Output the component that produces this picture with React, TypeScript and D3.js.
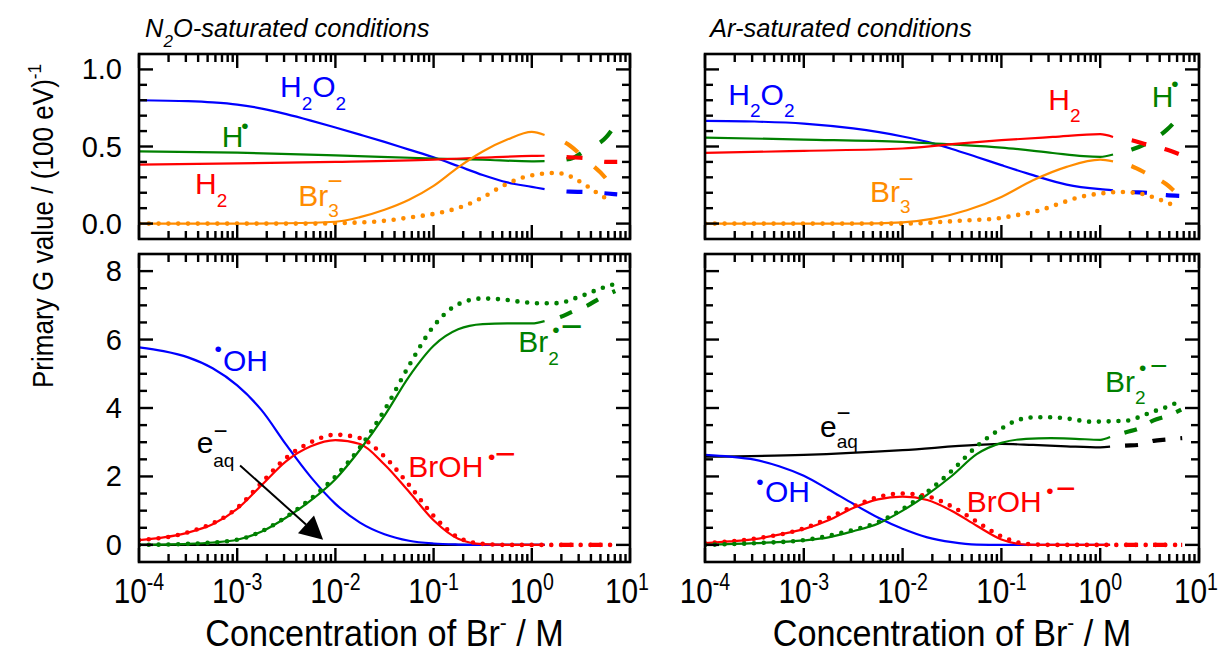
import React from "react";
import * as d3 from "d3";

type Pt = [number, number]; // [log10(concentration / M), G value]

// ---------- N2O-saturated, molecular products (top left) ----------
const n2oH2O2: Pt[] = [[-4,0.80],[-3.5,0.794],[-3.25,0.786],[-3,0.772],[-2.75,0.746],[-2.5,0.71],[-2.25,0.668],[-2,0.623],[-1.75,0.577],[-1.5,0.53],[-1.25,0.48],[-1,0.43],[-0.75,0.373],[-0.5,0.315],[-0.25,0.267],[0,0.238],[0.13,0.223]];
const n2oH2O2Hi: Pt[] = [[0.13,0.223],[0.39,0.207],[0.54,0.205],[0.77,0.195],[0.87,0.19]];
const n2oH: Pt[] = [[-4,0.469],[-3,0.46],[-2,0.443],[-1,0.422],[-0.5,0.414],[0,0.404],[0.13,0.405]];
const n2oHHi: Pt[] = [[0.13,0.405],[0.39,0.42],[0.55,0.476],[0.76,0.562],[0.87,0.66]];
const n2oH2: Pt[] = [[-4,0.383],[-3,0.39],[-2,0.40],[-1,0.415],[-0.5,0.428],[0,0.439],[0.13,0.44]];
const n2oH2Hi: Pt[] = [[0.13,0.44],[0.39,0.43],[0.54,0.425],[0.77,0.40],[0.87,0.40]];
const n2oBr3: Pt[] = [[-4,0],[-3,0],[-2.5,0.002],[-2,0.012],[-1.75,0.042],[-1.5,0.09],[-1.25,0.155],[-1,0.245],[-0.75,0.365],[-0.5,0.468],[-0.25,0.545],[0,0.595],[0.13,0.575]];
const n2oBr3Hi: Pt[] = [[0.13,0.575],[0.39,0.505],[0.54,0.42],[0.77,0.28],[0.87,0.18]];
const n2oBr3Sim: Pt[] = [[-4,0],[-2.2,0],[-1.9,0.004],[-1.55,0.015],[-1.24,0.04],[-0.92,0.073],[-0.7,0.112],[-0.5,0.17],[-0.3,0.243],[-0.1,0.297],[0.1,0.323],[0.23,0.328],[0.33,0.322],[0.44,0.29],[0.55,0.249],[0.65,0.205],[0.76,0.162]];

// ---------- Ar-saturated, molecular products (top right) ----------
const arH2O2: Pt[] = [[-4,0.666],[-3.5,0.662],[-3,0.649],[-2.5,0.617],[-2,0.565],[-1.75,0.53],[-1.5,0.484],[-1.25,0.432],[-1,0.379],[-0.68,0.314],[-0.34,0.253],[0,0.223],[0.13,0.216]];
const arH2O2Hi: Pt[] = [[0.13,0.216],[0.32,0.205],[0.47,0.2],[0.67,0.185],[0.8,0.18]];
const arH: Pt[] = [[-4,0.558],[-3,0.545],[-2,0.53],[-1.5,0.513],[-1,0.493],[-0.48,0.458],[-0.17,0.437],[0,0.433],[0.13,0.448]];
const arHHi: Pt[] = [[0.13,0.448],[0.32,0.48],[0.47,0.52],[0.67,0.606],[0.8,0.692]];
const arH2: Pt[] = [[-4,0.458],[-3,0.472],[-2,0.487],[-1.5,0.515],[-1,0.541],[-0.48,0.562],[0,0.58],[0.13,0.562]];
const arH2Hi: Pt[] = [[0.13,0.562],[0.32,0.541],[0.47,0.513],[0.67,0.48],[0.8,0.45]];
const arBr3: Pt[] = [[-4,0],[-2.5,0],[-2,0.008],[-1.69,0.032],[-1.35,0.086],[-1,0.173],[-0.68,0.281],[-0.34,0.368],[0,0.415],[0.13,0.404]];
const arBr3Hi: Pt[] = [[0.13,0.404],[0.32,0.372],[0.47,0.325],[0.67,0.255],[0.8,0.18]];
const arBr3Sim: Pt[] = [[-4,0],[-2,0],[-1.35,0.021],[-1.06,0.032],[-0.85,0.054],[-0.61,0.086],[-0.41,0.13],[-0.2,0.173],[0,0.195],[0.2,0.205],[0.4,0.195],[0.6,0.156],[0.74,0.119]];

// ---------- N2O-saturated, radicals (bottom left) ----------
const n2oOH: Pt[] = [[-4,5.77],[-3.75,5.66],[-3.5,5.48],[-3.25,5.16],[-3,4.66],[-2.75,3.93],[-2.5,2.92],[-2.25,1.98],[-2,1.2],[-1.75,0.65],[-1.5,0.31],[-1.25,0.12],[-1,0.04],[-0.75,0.01],[-0.5,0],[0.13,0]];
const n2oBrOH: Pt[] = [[-4,0.14],[-3.75,0.22],[-3.5,0.36],[-3.25,0.6],[-3,1.05],[-2.75,1.75],[-2.5,2.45],[-2.25,2.88],[-2,3.06],[-1.75,2.95],[-1.5,2.35],[-1.25,1.55],[-1,0.72],[-0.75,0.18],[-0.5,0.02],[-0.25,0],[0.13,0]];
const n2oBrOHHi: Pt[] = [[0.13,0],[0.85,0]];
const n2oBrOHSim: Pt[] = [[-4,0.14],[-3.5,0.37],[-3,1.08],[-2.75,1.82],[-2.5,2.55],[-2.25,3.0],[-2,3.22],[-1.75,3.12],[-1.5,2.58],[-1.25,1.75],[-1,0.85],[-0.75,0.22],[-0.5,0.03],[-0.25,0],[0.85,0]];
const n2oBr2: Pt[] = [[-4,0],[-3.75,0.01],[-3.5,0.03],[-3.25,0.07],[-3,0.15],[-2.75,0.39],[-2.5,0.8],[-2.25,1.3],[-2,1.92],[-1.75,2.78],[-1.5,3.78],[-1.25,4.92],[-1,5.82],[-0.75,6.3],[-0.5,6.45],[-0.25,6.47],[0,6.47],[0.13,6.54]];
const n2oBr2Hi: Pt[] = [[0.13,6.54],[0.29,6.66],[0.41,6.81],[0.57,7.0],[0.69,7.2],[0.85,7.42]];
const n2oBr2Sim: Pt[] = [[-4,0],[-3.5,0.03],[-3,0.15],[-2.75,0.4],[-2.5,0.82],[-2.25,1.35],[-2,2.0],[-1.75,2.85],[-1.5,3.94],[-1.25,5.24],[-1,6.39],[-0.75,7.03],[-0.5,7.2],[-0.26,7.16],[-0.08,7.09],[0.1,7.06],[0.19,7.06],[0.29,7.07],[0.38,7.14],[0.47,7.24],[0.57,7.34],[0.66,7.45],[0.76,7.55],[0.85,7.63]];
const n2oEaq: Pt[] = [[-4,0],[0.13,0]];

// ---------- Ar-saturated, radicals (bottom right) ----------
const arEaq: Pt[] = [[-4,2.575],[-3,2.63],[-2,2.77],[-1.25,2.92],[-1,2.95],[-0.68,2.92],[-0.34,2.88],[0,2.85],[0.1,2.87]];
const arEaqHi: Pt[] = [[0.1,2.87],[0.25,2.9],[0.39,2.92],[0.54,3.04],[0.67,3.08],[0.83,3.12]];
const arOH: Pt[] = [[-4,2.63],[-3.75,2.58],[-3.5,2.49],[-3.25,2.3],[-3,2.02],[-2.75,1.62],[-2.5,1.2],[-2.25,0.8],[-2,0.47],[-1.75,0.22],[-1.5,0.08],[-1.25,0.01],[-1,0],[0.1,0]];
const arBrOH: Pt[] = [[-4,0.05],[-3.75,0.1],[-3.5,0.17],[-3.25,0.3],[-3,0.46],[-2.75,0.72],[-2.5,1.08],[-2.25,1.33],[-2,1.41],[-1.75,1.31],[-1.5,0.99],[-1.25,0.56],[-1,0.16],[-0.75,0.01],[-0.5,0],[0.1,0]];
const arBrOHHi: Pt[] = [[0.1,0],[0.83,0]];
const arBrOHSim: Pt[] = [[-4,0.05],[-3.5,0.18],[-3,0.48],[-2.5,1.12],[-2.25,1.4],[-2,1.5],[-1.75,1.42],[-1.5,1.12],[-1.25,0.68],[-1,0.25],[-0.75,0.03],[-0.5,0],[0.83,0]];
const arBr2: Pt[] = [[-4,0],[-3.5,0.05],[-3,0.13],[-2.75,0.22],[-2.5,0.4],[-2.25,0.62],[-2,1.0],[-1.75,1.47],[-1.5,2.02],[-1.25,2.65],[-1,2.98],[-0.75,3.1],[-0.5,3.12],[-0.25,3.1],[0,3.07],[0.1,3.15]];
const arBr2Hi: Pt[] = [[0.1,3.15],[0.27,3.3],[0.39,3.4],[0.54,3.64],[0.67,3.76],[0.82,3.95]];
const arBr2Sim: Pt[] = [[-4,0],[-3.5,0.05],[-3,0.14],[-2.5,0.44],[-2.25,0.66],[-2,1.05],[-1.75,1.55],[-1.5,2.17],[-1.25,2.88],[-1,3.4],[-0.85,3.63],[-0.66,3.73],[-0.5,3.73],[-0.3,3.68],[-0.1,3.6],[0.18,3.62],[0.27,3.63],[0.37,3.71],[0.45,3.8],[0.54,3.9],[0.64,3.99],[0.72,4.09],[0.82,4.19]];

// ---------- axes ----------
const xDomain: [number, number] = [1e-4, 10];
const yTopDomain: [number, number] = [-0.1, 1.1];
const yBotDomain: [number, number] = [-0.5, 8.5];
const yTopTicks = [0, 0.1, 0.2, 0.3, 0.4, 0.5, 0.6, 0.7, 0.8, 0.9, 1.0];
const yTopLabels = ["0.0", "0.5", "1.0"];
const yBotTicks = [0, 0.5, 1, 1.5, 2, 2.5, 3, 3.5, 4, 4.5, 5, 5.5, 6, 6.5, 7, 7.5, 8];
const yBotLabels = ["0", "2", "4", "6", "8"];
const xExponents = ["-4", "-3", "-2", "-1", "0", "1"];

const BLUE = "#0000ff", RED = "#ff0000", GREEN = "#008000", ORANGE = "#ff8c00", BLACK = "#000000";
const FONT = "'Liberation Sans', Arial, Helvetica, sans-serif";

type Style = "solid" | "dashed" | "dotted";
type Series = { data: Pt[]; color: string; style: Style };

const COLS = [{ x0: 139, x1: 630 }, { x0: 705, x1: 1199 }];
const ROWS = [{ y0: 54, y1: 239, domain: yTopDomain }, { y0: 254, y1: 562, domain: yBotDomain }];

function Panel({ id, col, row, series, dash, showYLabels, showXLabels }: any) {
  const xs = d3.scaleLog().domain(xDomain).range([col.x0, col.x1]);
  const ys = d3.scaleLinear().domain(row.domain).range([row.y1, row.y0]);
  const line = d3.line<Pt>().x(d => xs(Math.pow(10, d[0]))).y(d => ys(d[1])).curve(d3.curveMonotoneX);
  const xt = xs.ticks();
  const isMajor = (t: number) => Math.abs(Math.log10(t) - Math.round(Math.log10(t))) < 1e-6;
  const isTop = row.domain === yTopDomain;
  const yt = isTop ? yTopTicks : yBotTicks;
  const yMajor = (v: number) => isTop ? Math.abs(v * 2 - Math.round(v * 2)) < 1e-6 : Math.abs(v / 2 - Math.round(v / 2)) < 1e-6;
  const yLabVals = isTop ? [0, 0.5, 1.0] : [0, 2, 4, 6, 8];
  const yLabTxt = isTop ? yTopLabels : yBotLabels;
  const order: Style[] = ["solid", "dashed", "dotted"];
  const majors = xt.filter(isMajor);
  return (
    <g>
      <clipPath id={id}><rect x={col.x0} y={row.y0} width={col.x1 - col.x0} height={row.y1 - row.y0} /></clipPath>
      <g clipPath={`url(#${id})`}>
        {order.map(st => series.filter((s: Series) => s.style === st).map((s: Series, i: number) => (
          <path key={st + i} d={line(s.data) || ""} fill="none" stroke={s.color}
            strokeWidth={st === "solid" ? 2.2 : st === "dashed" ? 4.2 : 4.6}
            strokeLinecap={st === "dotted" ? "round" : "butt"}
            strokeDasharray={st === "dashed" ? dash : st === "dotted" ? "0 9.8" : undefined}
            strokeDashoffset={st === "dashed" ? dash.split(" ")[0] : undefined} />
        )))}
      </g>
      {xt.map((t, i) => {
        const L = isMajor(t) ? 14 : 8;
        const x = xs(t);
        return (
          <g key={"xt" + i} stroke={BLACK} strokeWidth={2.4}>
            <line x1={x} x2={x} y1={row.y1} y2={row.y1 - L} />
            <line x1={x} x2={x} y1={row.y0} y2={row.y0 + L} />
          </g>
        );
      })}
      {yt.map((v, i) => {
        const L = yMajor(v) ? 14 : 8;
        const y = ys(v);
        return (
          <g key={"yt" + i} stroke={BLACK} strokeWidth={2.4}>
            <line x1={col.x0} x2={col.x0 + L} y1={y} y2={y} />
            <line x1={col.x1} x2={col.x1 - L} y1={y} y2={y} />
          </g>
        );
      })}
      <rect x={col.x0} y={row.y0} width={col.x1 - col.x0} height={row.y1 - row.y0} fill="none" stroke={BLACK} strokeWidth={2.6} />
      {showYLabels && yLabVals.map((v, i) => (
        <text key={"yl" + i} x={122} y={ys(v) + 10} textAnchor="end" fontSize={29} fill={BLACK}>{yLabTxt[i]}</text>
      ))}
      {showXLabels && majors.map((t, i) => (
        <text key={"xl" + i} transform={`translate(${xs(t) - (i === majors.length - 1 ? 3 : 0)},603) scale(0.85,1)`}
          textAnchor="middle" fontSize={35} fill={BLACK}>
          10<tspan fontSize={23} dy={-13}>{xExponents[i]}</tspan>
        </text>
      ))}
    </g>
  );
}

// small helpers for chemical labels (text only)
function Bul({ cx, cy, c }: { cx: number; cy: number; c: string }) {
  return <text x={cx - 3.8} y={cy + 7.6} fontSize={21} fill={c}>•</text>;
}
function Minus({ x0, x1, y, c }: { x0: number; x1: number; y: number; c: string }) {
  const fs = (x1 - x0) / 0.5;
  return <text x={x0 - 0.06 * fs} y={y + 0.32 * fs} fontSize={fs} fill={c}>−</text>;
}

export default function App() {
  const xL = d3.scaleLog().domain(xDomain).range([COLS[0].x0, COLS[0].x1]);
  const yBL = d3.scaleLinear().domain(yBotDomain).range([ROWS[1].y1, ROWS[1].y0]);
  // arrow from e_aq label to the zero line (data coordinates)
  const a0: [number, number] = [xL(1.07e-3), yBL(2.32)];
  const a1: [number, number] = [xL(7.5e-3), yBL(0.15)];
  const dx = a1[0] - a0[0], dy = a1[1] - a0[1], len = Math.hypot(dx, dy);
  const ux = dx / len, uy = dy / len;
  const hl = 23, hw = 12;
  const bx = a1[0] - ux * hl, by = a1[1] - uy * hl;
  const head = `${a1[0]},${a1[1]} ${bx - uy * hw},${by + ux * hw} ${bx + uy * hw},${by - ux * hw}`;

  const FS = 30, SUB = 19;
  return (
    <svg width={1220} height={654} style={{ position: "absolute", left: 0, top: 0, background: "#fff" }} fontFamily={FONT}>
      <rect width={1220} height={654} fill="#fff" />
      <Panel id="cTL" col={COLS[0]} row={ROWS[0]} dash="16 22" showYLabels showXLabels={false}
        series={[
          { data: n2oH2O2, color: BLUE, style: "solid" }, { data: n2oH, color: GREEN, style: "solid" },
          { data: n2oH2, color: RED, style: "solid" }, { data: n2oBr3, color: ORANGE, style: "solid" },
          { data: n2oH2O2Hi, color: BLUE, style: "dashed" }, { data: n2oHHi, color: GREEN, style: "dashed" },
          { data: n2oH2Hi, color: RED, style: "dashed" }, { data: n2oBr3Hi, color: ORANGE, style: "dashed" },
          { data: n2oBr3Sim, color: ORANGE, style: "dotted" },
        ]} />
      <Panel id="cTR" col={COLS[1]} row={ROWS[0]} dash="15 19" showYLabels={false} showXLabels={false}
        series={[
          { data: arH2O2, color: BLUE, style: "solid" }, { data: arH, color: GREEN, style: "solid" },
          { data: arH2, color: RED, style: "solid" }, { data: arBr3, color: ORANGE, style: "solid" },
          { data: arH2O2Hi, color: BLUE, style: "dashed" }, { data: arHHi, color: GREEN, style: "dashed" },
          { data: arH2Hi, color: RED, style: "dashed" }, { data: arBr3Hi, color: ORANGE, style: "dashed" },
          { data: arBr3Sim, color: ORANGE, style: "dotted" },
        ]} />
      <Panel id="cBL" col={COLS[0]} row={ROWS[1]} dash="13 16" showYLabels showXLabels
        series={[
          { data: n2oEaq, color: BLACK, style: "solid" }, { data: n2oOH, color: BLUE, style: "solid" },
          { data: n2oBrOH, color: RED, style: "solid" }, { data: n2oBr2, color: GREEN, style: "solid" },
          { data: n2oBrOHHi, color: RED, style: "dashed" }, { data: n2oBr2Hi, color: GREEN, style: "dashed" },
          { data: n2oBrOHSim, color: RED, style: "dotted" }, { data: n2oBr2Sim, color: GREEN, style: "dotted" },
        ]} />
      <Panel id="cBR" col={COLS[1]} row={ROWS[1]} dash="13 15" showYLabels={false} showXLabels
        series={[
          { data: arEaq, color: BLACK, style: "solid" }, { data: arOH, color: BLUE, style: "solid" },
          { data: arBrOH, color: RED, style: "solid" }, { data: arBr2, color: GREEN, style: "solid" },
          { data: arEaqHi, color: BLACK, style: "dashed" }, { data: arBrOHHi, color: RED, style: "dashed" },
          { data: arBr2Hi, color: GREEN, style: "dashed" },
          { data: arBrOHSim, color: RED, style: "dotted" }, { data: arBr2Sim, color: GREEN, style: "dotted" },
        ]} />

      {/* panel titles */}
      <text x={145} y={36.7} fontSize={25.5} fontStyle="italic" fill={BLACK}>N<tspan fontSize={17} dy={10}>2</tspan><tspan dy={-10}>O-saturated conditions</tspan></text>
      <text x={710} y={36.7} fontSize={25.5} fontStyle="italic" fill={BLACK}>Ar-saturated conditions</text>

      {/* axis titles */}
      <text transform="translate(53,226) rotate(-90) scale(0.9,1)" textAnchor="middle" fontSize={29} fill={BLACK}>Primary G value / (100 eV)<tspan fontSize={19} dy={-12}>-1</tspan></text>
      {[384.5, 952].map((cx, i) => (
        <text key={"xt" + i} transform={`translate(${cx},646) scale(0.95,1)`} textAnchor="middle" fontSize={36} fill={BLACK}>Concentration of Br<tspan fontSize={22} dy={-16}>-</tspan><tspan dy={16}> / M</tspan></text>
      ))}

      {/* top-left labels */}
      <text x={280} y={97} fontSize={FS} fill={BLUE}>H<tspan fontSize={SUB} dy={13}>2</tspan><tspan fontSize={FS} dy={-13}>O</tspan><tspan fontSize={SUB} dy={13}>2</tspan></text>
      <text x={221.7} y={147.3} fontSize={FS} fill={GREEN}>H</text>
      <Bul cx={245} cy={125} c={GREEN} />
      <text x={195} y={194} fontSize={FS} fill={RED}>H<tspan fontSize={SUB} dy={13}>2</tspan></text>
      <text x={298.3} y={206} fontSize={FS} fill={ORANGE}>Br<tspan fontSize={SUB} dy={11}>3</tspan></text>
      <Minus x0={329} x1={342} y={181.7} c={ORANGE} />

      {/* top-right labels */}
      <text x={728.3} y={105} fontSize={FS} fill={BLUE}>H<tspan fontSize={SUB} dy={12}>2</tspan><tspan fontSize={FS} dy={-12}>O</tspan><tspan fontSize={SUB} dy={12}>2</tspan></text>
      <text x={1048.3} y={110} fontSize={FS} fill={RED}>H<tspan fontSize={SUB} dy={12}>2</tspan></text>
      <text x={1151.7} y={106.7} fontSize={FS} fill={GREEN}>H</text>
      <Bul cx={1175} cy={83.3} c={GREEN} />
      <text x={870} y={201.7} fontSize={FS} fill={ORANGE}>Br<tspan fontSize={SUB} dy={11}>3</tspan></text>
      <Minus x0={900} x1={913} y={180} c={ORANGE} />

      {/* bottom-left labels */}
      <Bul cx={218.3} cy={348.3} c={BLUE} />
      <text x={223} y={370.7} fontSize={FS} fill={BLUE}>OH</text>
      <text x={196.7} y={453.3} fontSize={FS} fill={BLACK}>e</text>
      <text x={213.3} y={466.7} fontSize={SUB} fill={BLACK}>aq</text>
      <Minus x0={215} x1={227} y={431.7} c={BLACK} />
      <text x={408.3} y={476.7} fontSize={FS} fill={RED}>BrOH</text>
      <Bul cx={491.7} cy={456} c={RED} />
      <Minus x0={497} x1={515} y={454} c={RED} />
      <text x={518.3} y={351.7} fontSize={FS} fill={GREEN}>Br<tspan fontSize={SUB} dy={13}>2</tspan></text>
      <Bul cx={556} cy={329} c={GREEN} />
      <Minus x0={563} x1={581.7} y={327.3} c={GREEN} />
      <line x1={a0[0]} y1={a0[1]} x2={bx} y2={by} stroke={BLACK} strokeWidth={2} />
      <polygon points={head} fill={BLACK} />

      {/* bottom-right labels */}
      <text x={820} y={436.7} fontSize={FS} fill={BLACK}>e</text>
      <text x={836.7} y={448.3} fontSize={SUB} fill={BLACK}>aq</text>
      <Minus x0={838} x1={850} y={413.3} c={BLACK} />
      <Bul cx={760} cy={481.7} c={BLUE} />
      <text x={765} y={501.7} fontSize={FS} fill={BLUE}>OH</text>
      <text x={966.7} y={511.7} fontSize={FS} fill={RED}>BrOH</text>
      <Bul cx={1050} cy={490.7} c={RED} />
      <Minus x0={1058} x1={1075} y={489.3} c={RED} />
      <text x={1105} y={391.7} fontSize={FS} fill={GREEN}>Br<tspan fontSize={SUB} dy={12}>2</tspan></text>
      <Bul cx={1142.7} cy={367.3} c={GREEN} />
      <Minus x0={1151.7} x1={1166.7} y={366.7} c={GREEN} />
    </svg>
  );
}
